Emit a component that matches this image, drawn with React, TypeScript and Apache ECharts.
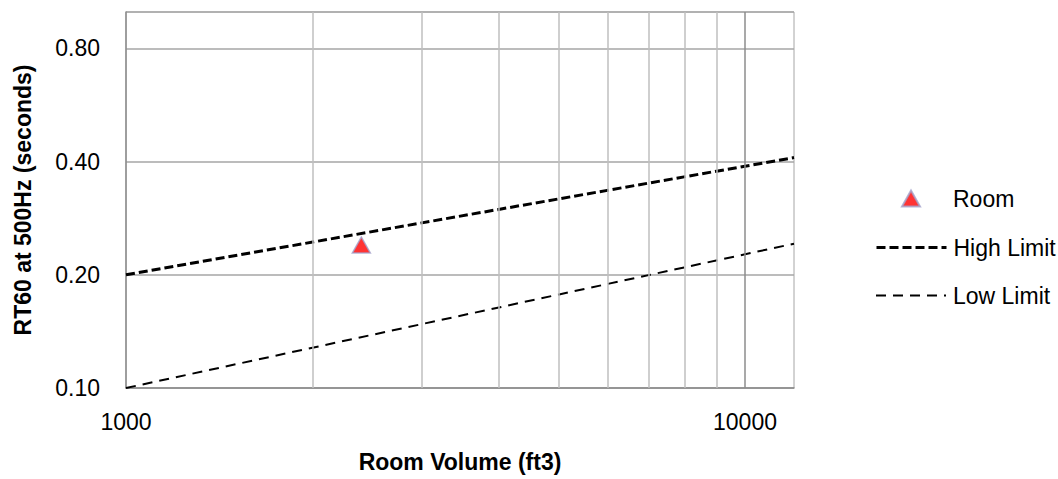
import React, { useEffect, useRef } from "react";
import * as echarts from "echarts";

// ---- data ----
const limitVolumes = [1000, 12000];
const highLimit = [0.2, 0.41];
const lowLimit = [0.1, 0.242];
const roomVolume = [2400];
const roomRT60 = [0.24];
const minorGridVolumes = [2000, 3000, 4000, 5000, 6000, 7000, 8000, 9000];
const majorGridVolumes = [10000];
const yBase = 0.1; // log2 scale origin
const yTop = 1.0;

const FONT = "'Liberation Sans', Arial, sans-serif";
const toY = (v: number) => Math.log2(v / yBase);

const HIGH_DASH = [9, 4];
const LOW_DASH = [10, 7];

export default function App() {
  const ref = useRef<HTMLDivElement>(null);
  useEffect(() => {
    if (!ref.current) return;
    const chart = echarts.init(ref.current, null, { renderer: "svg" });
    const legendText = { fontFamily: FONT, fontSize: 23, color: "#000" };
    const option: any = {
      animation: false,
      backgroundColor: "#ffffff",
      textStyle: { fontFamily: FONT },
      grid: {
        left: 126,
        top: 12,
        right: 264,
        bottom: 91,
        show: true,
        borderColor: "#a6a6a6",
        borderWidth: 1,
        backgroundColor: "transparent",
      },
      legend: [
        {
          orient: "vertical",
          left: 896,
          top: 182,
          itemWidth: 18,
          itemHeight: 16,
          data: [{ name: "Room", icon: "triangle" }],
          textStyle: { ...legendText, padding: [0, 0, 0, 28] },
        },
        {
          orient: "vertical",
          left: 870,
          top: 231,
          itemWidth: 70,
          itemHeight: 14,
          data: [{ name: "High Limit", itemStyle: { opacity: 0 } }],
          lineStyle: { color: "#000", width: 3, type: HIGH_DASH },
          itemStyle: { opacity: 0 },
          textStyle: { ...legendText, padding: [0, 0, 0, 2] },
        },
        {
          orient: "vertical",
          left: 870,
          top: 279,
          itemWidth: 70,
          itemHeight: 14,
          data: [{ name: "Low Limit", itemStyle: { opacity: 0 } }],
          lineStyle: { color: "#000", width: 2, type: LOW_DASH },
          itemStyle: { opacity: 0 },
          textStyle: { ...legendText, padding: [0, 0, 0, 2] },
        },
      ],
      xAxis: {
        type: "log",
        logBase: 10,
        min: 1000,
        max: 12000,
        name: "Room Volume (ft3)",
        nameLocation: "middle",
        nameGap: 62,
        nameTextStyle: { fontFamily: FONT, fontSize: 23, fontWeight: "bold", color: "#000" },
        axisLine: { show: true, lineStyle: { color: "#8c8c8c", width: 1.5 } },
        axisTick: { show: false },
        splitLine: { show: false },
        minorSplitLine: { show: false },
        axisLabel: {
          fontFamily: FONT,
          fontSize: 23,
          color: "#000",
          margin: 22,
          showMaxLabel: false,
          formatter: (v: number) => String(Math.round(v)),
        },
      },
      yAxis: {
        type: "value",
        min: 0,
        max: toY(yTop),
        interval: 1,
        name: "RT60 at 500Hz (seconds)",
        nameLocation: "middle",
        nameGap: 92,
        nameTextStyle: { fontFamily: FONT, fontSize: 23, fontWeight: "bold", color: "#000" },
        axisLine: { show: true, lineStyle: { color: "#8c8c8c", width: 1.5 } },
        axisTick: { show: false },
        splitLine: { show: true, lineStyle: { color: "#a6a6a6", width: 1.5 } },
        axisLabel: {
          fontFamily: FONT,
          fontSize: 23,
          color: "#000",
          margin: 26,
          showMaxLabel: false,
          formatter: (t: number) => (yBase * Math.pow(2, t)).toFixed(2),
        },
      },
      series: [
        {
          name: "grid",
          type: "line",
          data: [],
          z: 1,
          silent: true,
          markLine: {
            silent: true,
            symbol: "none",
            label: { show: false },
            animation: false,
            data: [
              ...minorGridVolumes.map((v) => ({
                xAxis: v,
                lineStyle: { color: "#bfbfbf", width: 1.5, type: "solid" },
              })),
              ...majorGridVolumes.map((v) => ({
                xAxis: v,
                lineStyle: { color: "#8c8c8c", width: 1.5, type: "solid" },
              })),
            ],
          },
        },
        {
          name: "Room",
          type: "scatter",
          z: 4,
          symbol: "triangle",
          symbolSize: [18, 16],
          itemStyle: { color: "#ff0000", borderColor: "#a3a3cc", borderWidth: 1.5 },
          data: roomVolume.map((v, i) => [v, toY(roomRT60[i])]),
        },
        {
          name: "High Limit",
          type: "line",
          z: 3,
          symbol: "none",
          lineStyle: { color: "#000", width: 3, type: HIGH_DASH },
          itemStyle: { color: "#000" },
          data: limitVolumes.map((v, i) => [v, toY(highLimit[i])]),
        },
        {
          name: "Low Limit",
          type: "line",
          z: 3,
          symbol: "none",
          lineStyle: { color: "#000", width: 2, type: LOW_DASH },
          itemStyle: { color: "#000" },
          data: limitVolumes.map((v, i) => [v, toY(lowLimit[i])]),
        },
      ],
    };
    chart.setOption(option);
    return () => chart.dispose();
  }, []);
  return (
    <div
      ref={ref}
      style={{ position: "fixed", left: 0, top: 0, width: 1058, height: 479, background: "#fff" }}
    />
  );
}
